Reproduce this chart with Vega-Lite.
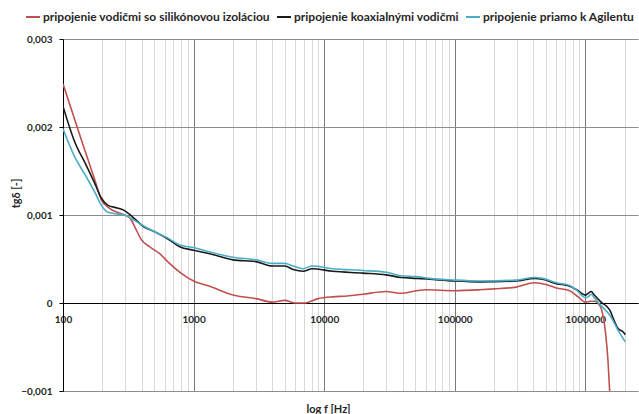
{
  "$schema": "https://vega.github.io/schema/vega-lite/v6.json",
  "width": 575,
  "height": 352,
  "autosize": {"type": "none"},
  "padding": {"left": 63, "top": 39, "right": 1, "bottom": 23},
  "background": "white",
  "config": {
    "view": {"stroke": null},
    "font": "Lato",
    "axis": {"labelFont": "Lato", "titleFont": "Lato", "labelColor": "#262626", "titleColor": "#262626"},
    "legend": {"labelFont": "Lato"}
  },
  "data": {
    "values": [
      {"f": 100, "v": 0.00249, "s": "pripojenie vodičmi so silikónovou izoláciou"},
      {"f": 140, "v": 0.00183, "s": "pripojenie vodičmi so silikónovou izoláciou"},
      {"f": 175, "v": 0.00140, "s": "pripojenie vodičmi so silikónovou izoláciou"},
      {"f": 197, "v": 0.00117, "s": "pripojenie vodičmi so silikónovou izoláciou"},
      {"f": 221, "v": 0.00109, "s": "pripojenie vodičmi so silikónovou izoláciou"},
      {"f": 296, "v": 0.00100, "s": "pripojenie vodičmi so silikónovou izoláciou"},
      {"f": 324, "v": 0.00097, "s": "pripojenie vodičmi so silikónovou izoláciou"},
      {"f": 364, "v": 0.00083, "s": "pripojenie vodičmi so silikónovou izoláciou"},
      {"f": 398, "v": 0.00072, "s": "pripojenie vodičmi so silikónovou izoláciou"},
      {"f": 460, "v": 0.00064, "s": "pripojenie vodičmi so silikónovou izoláciou"},
      {"f": 550, "v": 0.00056, "s": "pripojenie vodičmi so silikónovou izoláciou"},
      {"f": 654, "v": 0.00045, "s": "pripojenie vodičmi so silikónovou izoláciou"},
      {"f": 800, "v": 0.00034, "s": "pripojenie vodičmi so silikónovou izoláciou"},
      {"f": 1000, "v": 0.00025, "s": "pripojenie vodičmi so silikónovou izoláciou"},
      {"f": 1330, "v": 0.00019, "s": "pripojenie vodičmi so silikónovou izoláciou"},
      {"f": 2000, "v": 0.00009, "s": "pripojenie vodičmi so silikónovou izoláciou"},
      {"f": 3000, "v": 0.00005, "s": "pripojenie vodičmi so silikónovou izoláciou"},
      {"f": 4000, "v": 0.00001, "s": "pripojenie vodičmi so silikónovou izoláciou"},
      {"f": 5000, "v": 0.00003, "s": "pripojenie vodičmi so silikónovou izoláciou"},
      {"f": 6000, "v": 0.0, "s": "pripojenie vodičmi so silikónovou izoláciou"},
      {"f": 7000, "v": 0.0, "s": "pripojenie vodičmi so silikónovou izoláciou"},
      {"f": 9000, "v": 0.00005, "s": "pripojenie vodičmi so silikónovou izoláciou"},
      {"f": 11600, "v": 0.00007, "s": "pripojenie vodičmi so silikónovou izoláciou"},
      {"f": 15000, "v": 0.00008, "s": "pripojenie vodičmi so silikónovou izoláciou"},
      {"f": 19800, "v": 0.00010, "s": "pripojenie vodičmi so silikónovou izoláciou"},
      {"f": 29900, "v": 0.00013, "s": "pripojenie vodičmi so silikónovou izoláciou"},
      {"f": 38900, "v": 0.00011, "s": "pripojenie vodičmi so silikónovou izoláciou"},
      {"f": 50800, "v": 0.00014, "s": "pripojenie vodičmi so silikónovou izoláciou"},
      {"f": 60000, "v": 0.00015, "s": "pripojenie vodičmi so silikónovou izoláciou"},
      {"f": 100000, "v": 0.00014, "s": "pripojenie vodičmi so silikónovou izoláciou"},
      {"f": 155000, "v": 0.00015, "s": "pripojenie vodičmi so silikónovou izoláciou"},
      {"f": 200000, "v": 0.00016, "s": "pripojenie vodičmi so silikónovou izoláciou"},
      {"f": 295000, "v": 0.00018, "s": "pripojenie vodičmi so silikónovou izoláciou"},
      {"f": 408000, "v": 0.00023, "s": "pripojenie vodičmi so silikónovou izoláciou"},
      {"f": 500000, "v": 0.00021, "s": "pripojenie vodičmi so silikónovou izoláciou"},
      {"f": 600000, "v": 0.00017, "s": "pripojenie vodičmi so silikónovou izoláciou"},
      {"f": 760000, "v": 0.00014, "s": "pripojenie vodičmi so silikónovou izoláciou"},
      {"f": 880000, "v": 0.00007, "s": "pripojenie vodičmi so silikónovou izoláciou"},
      {"f": 1000000, "v": 0.00001, "s": "pripojenie vodičmi so silikónovou izoláciou"},
      {"f": 1100000, "v": 0.00002, "s": "pripojenie vodičmi so silikónovou izoláciou"},
      {"f": 1170000, "v": 0.00002, "s": "pripojenie vodičmi so silikónovou izoláciou"},
      {"f": 1290000, "v": -0.00003, "s": "pripojenie vodičmi so silikónovou izoláciou"},
      {"f": 1430000, "v": -0.00035, "s": "pripojenie vodičmi so silikónovou izoláciou"},
      {"f": 1490000, "v": -0.00065, "s": "pripojenie vodičmi so silikónovou izoláciou"},
      {"f": 1535000, "v": -0.00100, "s": "pripojenie vodičmi so silikónovou izoláciou"},
      {"f": 1570000, "v": -0.00130, "s": "pripojenie vodičmi so silikónovou izoláciou"},

      {"f": 100, "v": 0.002235, "s": "pripojenie koaxialnými vodičmi"},
      {"f": 123, "v": 0.00183, "s": "pripojenie koaxialnými vodičmi"},
      {"f": 150, "v": 0.00157, "s": "pripojenie koaxialnými vodičmi"},
      {"f": 175, "v": 0.00136, "s": "pripojenie koaxialnými vodičmi"},
      {"f": 197, "v": 0.00119, "s": "pripojenie koaxialnými vodičmi"},
      {"f": 221, "v": 0.00111, "s": "pripojenie koaxialnými vodičmi"},
      {"f": 260, "v": 0.00108, "s": "pripojenie koaxialnými vodičmi"},
      {"f": 296, "v": 0.00105, "s": "pripojenie koaxialnými vodičmi"},
      {"f": 334, "v": 0.00099, "s": "pripojenie koaxialnými vodičmi"},
      {"f": 421, "v": 0.00086, "s": "pripojenie koaxialnými vodičmi"},
      {"f": 503, "v": 0.00081, "s": "pripojenie koaxialnými vodičmi"},
      {"f": 632, "v": 0.00073, "s": "pripojenie koaxialnými vodičmi"},
      {"f": 782, "v": 0.00064, "s": "pripojenie koaxialnými vodičmi"},
      {"f": 1000, "v": 0.00060, "s": "pripojenie koaxialnými vodičmi"},
      {"f": 1330, "v": 0.00056, "s": "pripojenie koaxialnými vodičmi"},
      {"f": 2000, "v": 0.00049, "s": "pripojenie koaxialnými vodičmi"},
      {"f": 3000, "v": 0.00047, "s": "pripojenie koaxialnými vodičmi"},
      {"f": 4000, "v": 0.00042, "s": "pripojenie koaxialnými vodičmi"},
      {"f": 5000, "v": 0.00042, "s": "pripojenie koaxialnými vodičmi"},
      {"f": 5800, "v": 0.00038, "s": "pripojenie koaxialnými vodičmi"},
      {"f": 6900, "v": 0.00036, "s": "pripojenie koaxialnými vodičmi"},
      {"f": 8100, "v": 0.00039, "s": "pripojenie koaxialnými vodičmi"},
      {"f": 11600, "v": 0.00036, "s": "pripojenie koaxialnými vodičmi"},
      {"f": 19800, "v": 0.00034, "s": "pripojenie koaxialnými vodičmi"},
      {"f": 29900, "v": 0.00032, "s": "pripojenie koaxialnými vodičmi"},
      {"f": 38900, "v": 0.00029, "s": "pripojenie koaxialnými vodičmi"},
      {"f": 50800, "v": 0.00028, "s": "pripojenie koaxialnými vodičmi"},
      {"f": 64000, "v": 0.00027, "s": "pripojenie koaxialnými vodičmi"},
      {"f": 100000, "v": 0.00025, "s": "pripojenie koaxialnými vodičmi"},
      {"f": 155000, "v": 0.00024, "s": "pripojenie koaxialnými vodičmi"},
      {"f": 295000, "v": 0.00025, "s": "pripojenie koaxialnými vodičmi"},
      {"f": 408000, "v": 0.00028, "s": "pripojenie koaxialnými vodičmi"},
      {"f": 470000, "v": 0.00027, "s": "pripojenie koaxialnými vodičmi"},
      {"f": 600000, "v": 0.00022, "s": "pripojenie koaxialnými vodičmi"},
      {"f": 760000, "v": 0.00019, "s": "pripojenie koaxialnými vodičmi"},
      {"f": 880000, "v": 0.00014, "s": "pripojenie koaxialnými vodičmi"},
      {"f": 1000000, "v": 0.00009, "s": "pripojenie koaxialnými vodičmi"},
      {"f": 1050000, "v": 0.00011, "s": "pripojenie koaxialnými vodičmi"},
      {"f": 1110000, "v": 0.00013, "s": "pripojenie koaxialnými vodičmi"},
      {"f": 1170000, "v": 0.00009, "s": "pripojenie koaxialnými vodičmi"},
      {"f": 1320000, "v": 0.00001, "s": "pripojenie koaxialnými vodičmi"},
      {"f": 1540000, "v": -0.00008, "s": "pripojenie koaxialnými vodičmi"},
      {"f": 1600000, "v": -0.00014, "s": "pripojenie koaxialnými vodičmi"},
      {"f": 1780000, "v": -0.00029, "s": "pripojenie koaxialnými vodičmi"},
      {"f": 1950000, "v": -0.00033, "s": "pripojenie koaxialnými vodičmi"},
      {"f": 2020000, "v": -0.00036, "s": "pripojenie koaxialnými vodičmi"},

      {"f": 100, "v": 0.00198, "s": "pripojenie priamo k Agilentu"},
      {"f": 123, "v": 0.00166, "s": "pripojenie priamo k Agilentu"},
      {"f": 150, "v": 0.00144, "s": "pripojenie priamo k Agilentu"},
      {"f": 175, "v": 0.00126, "s": "pripojenie priamo k Agilentu"},
      {"f": 197, "v": 0.00111, "s": "pripojenie priamo k Agilentu"},
      {"f": 221, "v": 0.00103, "s": "pripojenie priamo k Agilentu"},
      {"f": 262, "v": 0.00101, "s": "pripojenie priamo k Agilentu"},
      {"f": 296, "v": 0.00100, "s": "pripojenie priamo k Agilentu"},
      {"f": 334, "v": 0.00096, "s": "pripojenie priamo k Agilentu"},
      {"f": 421, "v": 0.00087, "s": "pripojenie priamo k Agilentu"},
      {"f": 503, "v": 0.00081, "s": "pripojenie priamo k Agilentu"},
      {"f": 632, "v": 0.00074, "s": "pripojenie priamo k Agilentu"},
      {"f": 782, "v": 0.00066, "s": "pripojenie priamo k Agilentu"},
      {"f": 1000, "v": 0.00063, "s": "pripojenie priamo k Agilentu"},
      {"f": 1330, "v": 0.00058, "s": "pripojenie priamo k Agilentu"},
      {"f": 2000, "v": 0.00052, "s": "pripojenie priamo k Agilentu"},
      {"f": 3000, "v": 0.00049, "s": "pripojenie priamo k Agilentu"},
      {"f": 4000, "v": 0.00045, "s": "pripojenie priamo k Agilentu"},
      {"f": 5000, "v": 0.00045, "s": "pripojenie priamo k Agilentu"},
      {"f": 5800, "v": 0.00042, "s": "pripojenie priamo k Agilentu"},
      {"f": 6900, "v": 0.00039, "s": "pripojenie priamo k Agilentu"},
      {"f": 8100, "v": 0.00042, "s": "pripojenie priamo k Agilentu"},
      {"f": 11600, "v": 0.00039, "s": "pripojenie priamo k Agilentu"},
      {"f": 19800, "v": 0.00037, "s": "pripojenie priamo k Agilentu"},
      {"f": 29900, "v": 0.00035, "s": "pripojenie priamo k Agilentu"},
      {"f": 38900, "v": 0.00031, "s": "pripojenie priamo k Agilentu"},
      {"f": 50800, "v": 0.00030, "s": "pripojenie priamo k Agilentu"},
      {"f": 64000, "v": 0.00028, "s": "pripojenie priamo k Agilentu"},
      {"f": 100000, "v": 0.00026, "s": "pripojenie priamo k Agilentu"},
      {"f": 155000, "v": 0.00025, "s": "pripojenie priamo k Agilentu"},
      {"f": 295000, "v": 0.00026, "s": "pripojenie priamo k Agilentu"},
      {"f": 408000, "v": 0.00029, "s": "pripojenie priamo k Agilentu"},
      {"f": 470000, "v": 0.00028, "s": "pripojenie priamo k Agilentu"},
      {"f": 600000, "v": 0.00023, "s": "pripojenie priamo k Agilentu"},
      {"f": 760000, "v": 0.00020, "s": "pripojenie priamo k Agilentu"},
      {"f": 880000, "v": 0.00013, "s": "pripojenie priamo k Agilentu"},
      {"f": 1000000, "v": 0.00006, "s": "pripojenie priamo k Agilentu"},
      {"f": 1050000, "v": 0.00007, "s": "pripojenie priamo k Agilentu"},
      {"f": 1110000, "v": 0.00010, "s": "pripojenie priamo k Agilentu"},
      {"f": 1170000, "v": 0.00006, "s": "pripojenie priamo k Agilentu"},
      {"f": 1320000, "v": -0.00003, "s": "pripojenie priamo k Agilentu"},
      {"f": 1540000, "v": -0.00014, "s": "pripojenie priamo k Agilentu"},
      {"f": 1600000, "v": -0.00018, "s": "pripojenie priamo k Agilentu"},
      {"f": 1780000, "v": -0.00031, "s": "pripojenie priamo k Agilentu"},
      {"f": 2020000, "v": -0.00044, "s": "pripojenie priamo k Agilentu"}
    ]
  },
  "layer": [
    {
      "mark": {"type": "line", "strokeWidth": 1.6, "interpolate": "monotone", "clip": true},
      "encoding": {
        "x": {
          "field": "f", "type": "quantitative",
          "scale": {"type": "log", "domain": [100, 2530000], "nice": false},
          "axis": {
            "orient": "bottom",
            "values": [200,300,400,500,600,700,800,900,2000,3000,4000,5000,6000,7000,8000,9000,20000,30000,40000,50000,60000,70000,80000,90000,200000,300000,400000,500000,600000,700000,800000,900000,2000000],
            "grid": true, "gridColor": "#d9d9d9", "gridWidth": 1,
            "labels": false, "ticks": false, "domain": false,
            "title": "log f [Hz]", "titleFontSize": 11, "titleFontWeight": "bold",
            "titleX": 265, "titleY": 18, "titleAnchor": null, "titleAlign": "center", "titleBaseline": "middle"
          }
        },
        "y": {
          "field": "v", "type": "quantitative",
          "scale": {"domain": [-0.001, 0.003], "nice": false, "zero": false},
          "axis": {
            "values": [-0.001, 0, 0.001, 0.002, 0.003],
            "labelExpr": "datum.value == 0 ? '0' : replace(format(datum.value, '.3f'), '.', ',')",
            "grid": true, "gridColor": "#8c8c8c", "gridWidth": 1,
            "domain": true, "domainColor": "#000000", "domainWidth": 1,
            "ticks": true, "tickColor": "#000000", "tickSize": 4,
            "labelFontSize": 10, "labelFontWeight": "bold", "labelPadding": 7,
            "title": "tgδ  [-]", "titleFontSize": 11, "titleFontWeight": "bold",
            "titleAngle": -90, "titleX": -47, "titleY": 154, "titleAlign": "center", "titleBaseline": "middle"
          }
        },
        "color": {
          "field": "s", "type": "nominal",
          "scale": {
            "domain": ["pripojenie vodičmi so silikónovou izoláciou", "pripojenie koaxialnými vodičmi", "pripojenie priamo k Agilentu"],
            "range": ["#C0504D", "#1a1a1a", "#4BACC6"]
          },
          "legend": {
            "orient": "none", "legendX": -38, "legendY": -30, "direction": "horizontal",
            "title": null, "symbolType": "stroke", "symbolSize": 196, "symbolStrokeWidth": 2,
            "labelFontSize": 12, "labelFontWeight": "bold", "labelColor": "#262626",
            "labelLimit": 400, "labelOffset": 2, "columnPadding": 3
          }
        }
      }
    },
    {
      "mark": {"type": "line", "opacity": 0, "clip": true},
      "encoding": {
        "x": {
          "field": "f", "type": "quantitative",
          "scale": {"type": "log", "domain": [100, 2530000], "nice": false},
          "axis": {
            "orient": "bottom", "offset": -88,
            "values": [100, 1000, 10000, 100000, 1000000],
            "format": "d",
            "grid": true, "gridColor": "#7a7a7a", "gridWidth": 1,
            "ticks": false, "domain": true, "domainColor": "#000000", "domainWidth": 1.2,
            "labelFontSize": 10, "labelFontWeight": "bold", "labelPadding": 11,
            "labelFlush": false, "labelOverlap": false, "title": null
          }
        },
        "y": {"field": "v", "type": "quantitative"},
        "detail": {"field": "s"}
      }
    }
  ],
  "resolve": {"axis": {"x": "independent"}}
}
